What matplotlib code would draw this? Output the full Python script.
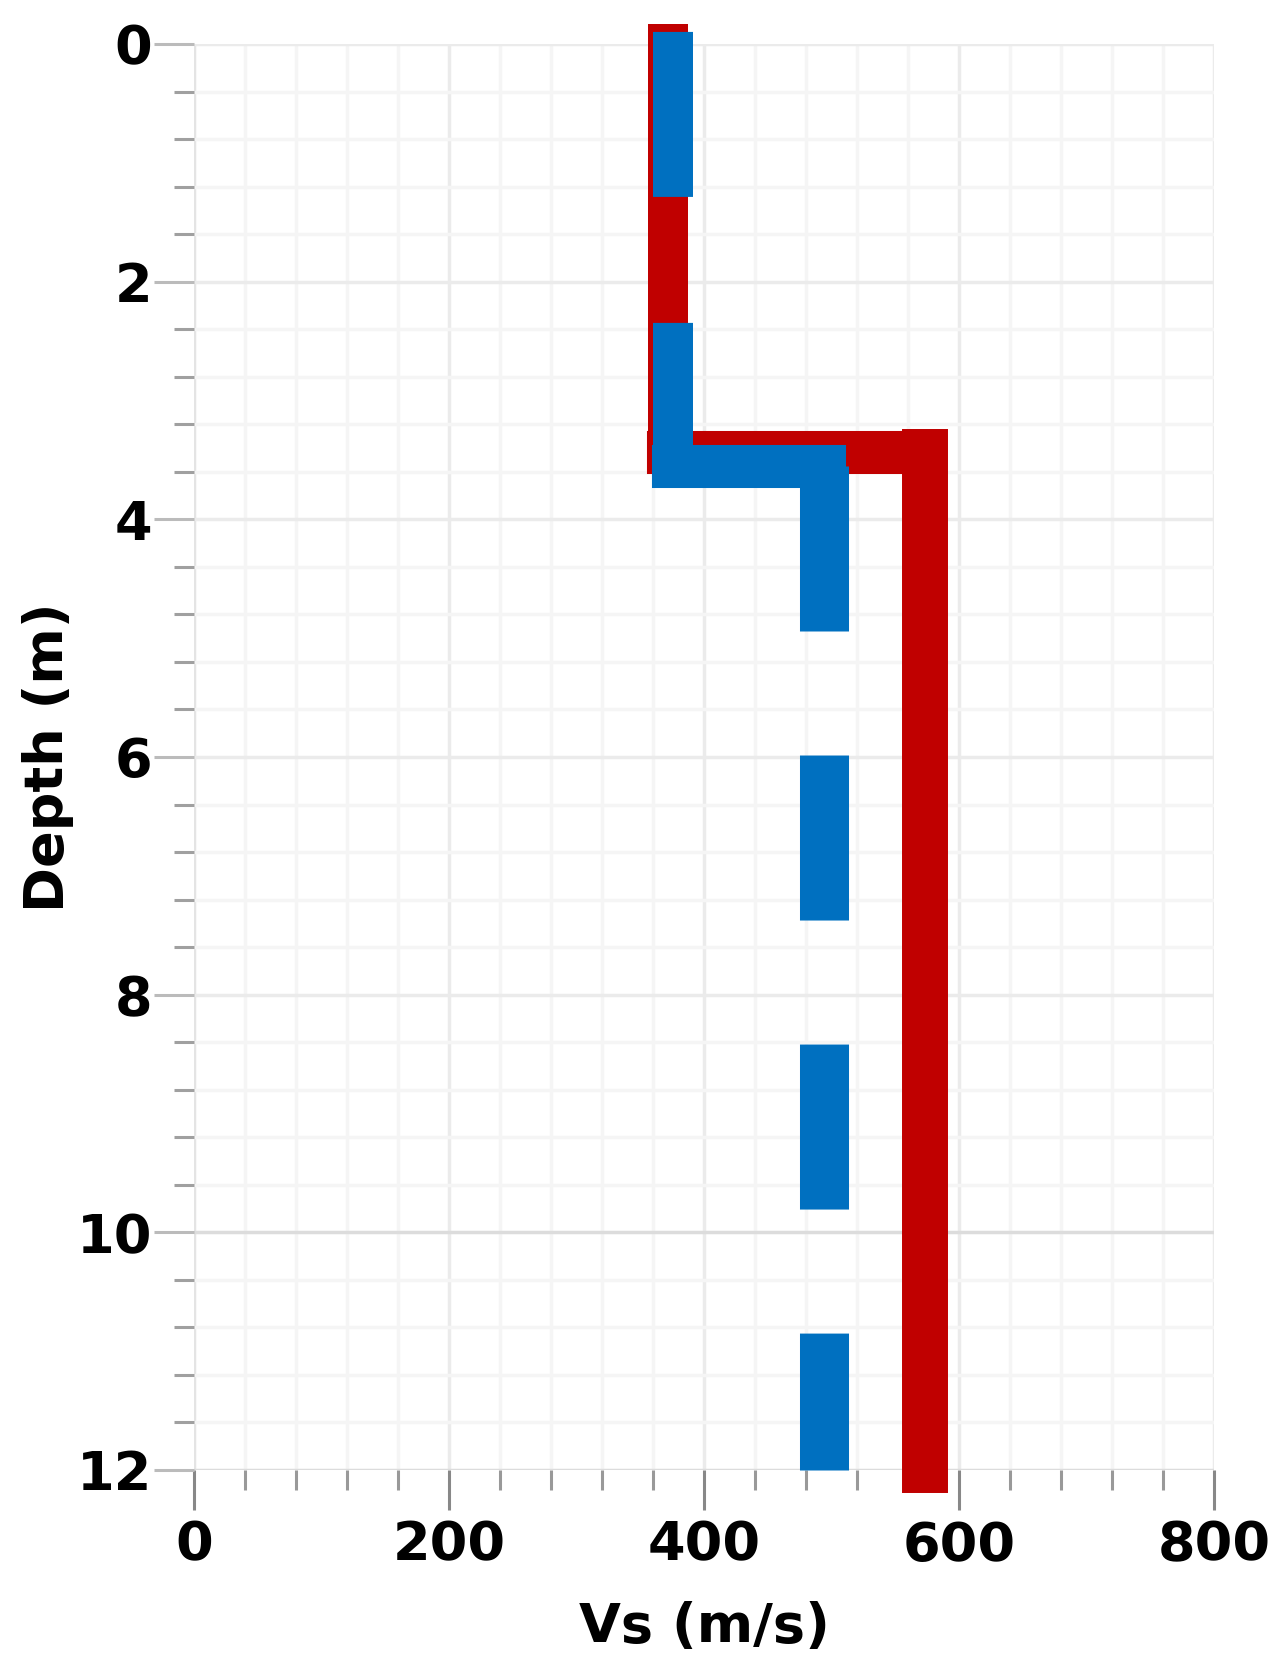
import matplotlib
matplotlib.use('Agg')
import matplotlib.pyplot as plt
from matplotlib.ticker import MultipleLocator

# step profiles of shear wave velocity against depth
redVs = [372, 372, 573, 573]
redDepth = [0, 3.43, 3.43, 12]
blueVs = [376, 376, 494, 494]
blueDepth = [0, 3.55, 3.55, 12]

xTicks = [0, 200, 400, 600, 800]
yTicks = [0, 2, 4, 6, 8, 10, 12]

plt.rcParams['font.family'] = ['DejaVu Sans']
plt.rcParams['font.weight'] = 'bold'
plt.rcParams['lines.scale_dashes'] = False

fig = plt.figure(figsize=(12.88, 16.73), dpi=100)
ax = fig.add_axes([194 / 1288, 1 - 1470 / 1673, 1020 / 1288, 1426 / 1673])


def drawSteps(vs, depth, color, widths, dashStyles):
    # one line per segment, so the dash pattern starts again at every corner
    for i in range(len(vs) - 1):
        line, = ax.plot(vs[i:i + 2], depth[i:i + 2], color=color, lw=widths[i],
                        clip_on=False, zorder=3, solid_capstyle='projecting')
        if dashStyles and dashStyles[i]:
            style, cap = dashStyles[i]
            line.set_linestyle(style)
            line.set_dash_capstyle(cap)


drawSteps(redVs, redDepth, '#C00000', [28.8, 31, 33.1], None)
drawSteps(blueVs, blueDepth, '#0070C0', [28.8, 31, 35.3],
          [((203.8, (90, 119.5)), 'projecting'), None, ((0, (118.8, 89.3)), 'butt')])

ax.set_xlim(0, 800)
ax.set_ylim(12, 0)
ax.set_xticks(xTicks)
ax.set_yticks(yTicks)
ax.xaxis.set_minor_locator(MultipleLocator(40))
ax.yaxis.set_minor_locator(MultipleLocator(0.4))

for s in ax.spines.values():
    s.set_visible(False)

ax.set_axisbelow(True)
ax.grid(True, which='major', color='#ebebeb', lw=2.5)
ax.grid(True, which='minor', color='#f5f5f5', lw=2.5)

ax.tick_params(axis='y', which='major', length=28.8, width=2.2, color='#bbbbbb', pad=1, labelsize=39)
ax.tick_params(axis='y', which='minor', length=14.4, width=2.2, color='#a0a0a0')
ax.tick_params(axis='x', which='major', length=28.8, width=2.2, color='#888888', pad=7, labelsize=39)
ax.tick_params(axis='x', which='minor', length=14.4, width=2.2, color='#999999')

yMajor = ax.yaxis.get_major_ticks()
for t in yMajor[5:]:
    t.tick1line.set_color('#222222')
    t.gridline.set_color('#dcdcdc')
ax.xaxis.get_major_ticks()[0].gridline.set_color('#e4e4e4')

ax.set_xlabel('Vs (m/s)', fontsize=39, fontweight='bold')
ax.set_ylabel('Depth (m)', fontsize=39, fontweight='bold')
ax.xaxis.set_label_coords(0.5, (1470 - 1627) / 1426)
ax.xaxis.label.set_va('center')
ax.yaxis.set_label_coords((48 - 194) / 1020, 0.5)
ax.yaxis.label.set_va('center')

fig.savefig('out.png', dpi=100)
